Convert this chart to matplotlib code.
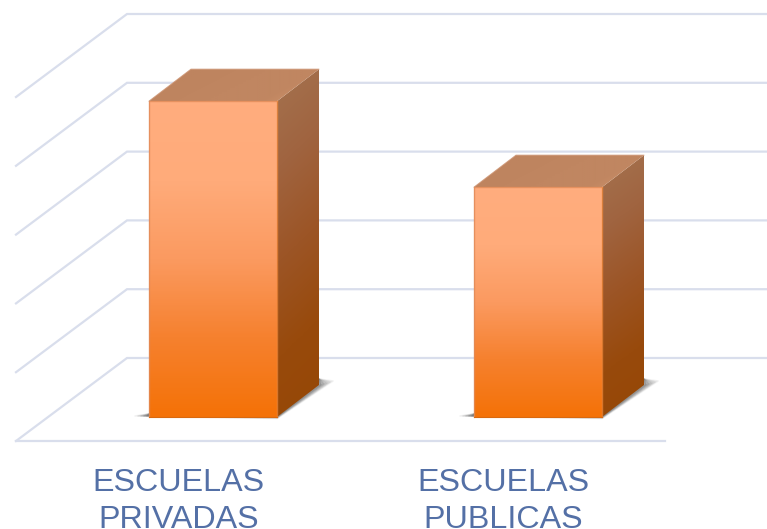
import numpy as np
import matplotlib
matplotlib.use('Agg')
import matplotlib.pyplot as plt
from matplotlib.patches import Polygon
from matplotlib.colors import LinearSegmentedColormap

categorias = ['ESCUELAS\nPRIVADAS', 'ESCUELAS\nPUBLICAS']
valores = [4.59, 3.34]
niveles = [0, 1, 2, 3, 4, 5]

ancho_px, alto_px = 767, 529
px_cat = 325  # pixeles entre categorias
px_val = 68.8  # pixeles por unidad
x0_px, y0_px = 213.0, 417.0  # primera barra, base

plt.rcParams['font.family'] = ['Liberation Sans', 'DejaVu Sans']
fig = plt.figure(figsize=(ancho_px/100, alto_px/100), dpi=100, facecolor='white')
ax = fig.add_axes([0, 0, 1, 1])
ax.set_xlim(-x0_px/px_cat, (ancho_px-x0_px)/px_cat)
ax.set_ylim((y0_px-alto_px)/px_val, y0_px/px_val)
ax.axis('off')
xlim, ylim = ax.get_xlim(), ax.get_ylim()

def dx(p):
    return p/px_cat

def dy(p):
    return p/px_val

# paredes y piso
col_grid = '#D9DEEC'
fondo_x = dx(127-x0_px)
frente_x = dx(16-x0_px)
fondo_y = dy(59)
salto = dy(-83)
for n in niveles:
    y = fondo_y + n
    ax.plot([frente_x, fondo_x, xlim[1]], [y+salto, y, y], color=col_grid,
            lw=1.6, solid_joinstyle='miter', zorder=1)
ax.plot([frente_x, dx(665-x0_px)], [fondo_y+salto]*2, color=col_grid, lw=1.6, zorder=1)

cm_frente = LinearSegmentedColormap.from_list('f', ['#FFAD7E', '#FFAB7A', '#FB9A60', '#F6812F', '#F47208'])
cm_lado = LinearSegmentedColormap.from_list('l', ['#A4724F', '#A06440', '#9C5526', '#984A0C', '#964705'])
cm_tapa = LinearSegmentedColormap.from_list('t', ['#BE845F', '#C08661', '#C08661', '#D2956D'])
prof_x, prof_y = dx(42), dy(32)
medio = dx(64)

def cara(puntos, cmap, datos, z):
    pol = Polygon(puntos, closed=True, facecolor='none', edgecolor='none', zorder=z)
    ax.add_patch(pol)
    xs, ys = zip(*puntos)
    im = ax.imshow(datos, cmap=cmap, extent=[min(xs), max(xs), min(ys), max(ys)],
                   aspect='auto', origin='upper', vmin=0, vmax=1, zorder=z, interpolation='bilinear')
    im.set_clip_path(pol)

vert = np.linspace(0, 1, 64).reshape(-1, 1)
diag = np.linspace(0, 1, 64)[:, None] * 0.9 + np.linspace(0, 0.1, 16)[None, :]
horiz = np.clip((np.linspace(0, 1, 64)[None, :] - 0.35*np.linspace(1, 0, 16)[:, None]), 0, 1)

for i, v in enumerate(valores):
    iz, de = i-medio, i+medio

    # sombra, capas que se achican hacia las puntas
    for a, t in zip([0.07, 0.10, 0.13, 0.17, 0.20], [0, 3, 6, 9, 12]):
        sombra = [(iz-dx(14-t), dy(1)), (de, dy(-1.5+t*0.15)), (de+dx(56-t), dy(36-t*0.3)),
                  (de+prof_x, dy(38)), (iz, dy(3))]
        ax.add_patch(Polygon(sombra, closed=True, facecolor='#505050', edgecolor='#505050',
                             alpha=a, lw=1.2, joinstyle='round', zorder=2))

    cara([(de, 0), (de+prof_x, prof_y), (de+prof_x, v+prof_y), (de, v)], cm_lado, diag, 3)
    cara([(iz, v), (de, v), (de+prof_x, v+prof_y), (iz+prof_x, v+prof_y)], cm_tapa, horiz, 3)
    cara([(iz, 0), (de, 0), (de, v), (iz, v)], cm_frente, vert, 4)

    # bordes biselados
    ax.plot([iz, iz, de], [0, v, v], color='#E08A58', lw=1.0, alpha=0.8, zorder=5,
            solid_joinstyle='round', solid_capstyle='round')
    ax.plot([de, de], [0, v], color='#F58A3A', lw=1.0, alpha=0.7, zorder=5)
    ax.plot([iz, de], [0, 0], color='#D9690F', lw=0.8, zorder=5)
    ax.plot([iz, iz+prof_x, de+prof_x], [v, v+prof_y, v+prof_y],
            color='#CC9270', lw=0.8, alpha=0.8, zorder=5, solid_joinstyle='round', solid_capstyle='round')

    ax.text(i-dx(34.5), dy(-110.5), categorias[i], ha='center', va='baseline', fontsize=23.2,
            color='#5470A6', linespacing=1.27, zorder=6)

ax.set_xlim(xlim)
ax.set_ylim(ylim)
fig.savefig('out.png', dpi=100)
